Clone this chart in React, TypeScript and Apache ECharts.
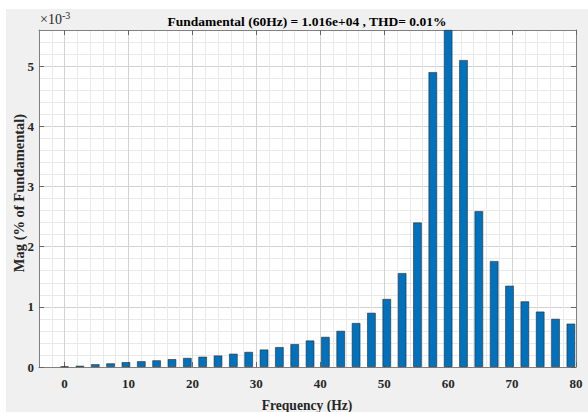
import React, { useEffect, useRef } from "react";
import * as echarts from "echarts";

const freqs = [0, 2.4, 4.8, 7.2, 9.6, 12, 14.4, 16.8, 19.2, 21.6, 24, 26.4, 28.8, 31.2, 33.6, 36, 38.4, 40.8, 43.2, 45.6, 48, 50.4, 52.8, 55.2, 57.6, 60, 62.4, 64.8, 67.2, 69.6, 72, 74.4, 76.8, 79.2];
const mags = [0.01, 0.02, 0.045, 0.06, 0.08, 0.095, 0.11, 0.13, 0.15, 0.17, 0.19, 0.22, 0.25, 0.29, 0.33, 0.38, 0.44, 0.5, 0.6, 0.73, 0.9, 1.13, 1.56, 2.4, 4.9, 5.6, 5.1, 2.59, 1.76, 1.35, 1.09, 0.92, 0.8, 0.72];
const xTicks = [0, 10, 20, 30, 40, 50, 60, 70, 80];
const yTicks = [0, 1, 2, 3, 4, 5];
const titleText = "Fundamental (60Hz) = 1.016e+04 , THD= 0.01%";
const xName = "Frequency (Hz)";
const yName = "Mag (% of Fundamental)";

const FONT = "'Liberation Serif', 'Times New Roman', serif";
const MINOR = "#e9e9e9";
const MAJOR = "#d2d2d2";
const AXIS = "#808080";

export default function App() {
  const ref = useRef<HTMLDivElement>(null);
  useEffect(() => {
    if (!ref.current) return;
    const chart = echarts.init(ref.current, null, { renderer: "svg" });
    const data = freqs.map((f, i) => [f, mags[i]]);
    const tickAxisX = (pos: string, labels: boolean) => ({
      type: "value", position: pos, min: -4, max: 80, interval: 2,
      axisLine: { show: true, onZero: false, lineStyle: { color: AXIS, width: 1 } },
      axisTick: { show: true, inside: true, length: 5, customValues: xTicks, lineStyle: { color: "#666" } },
      axisLabel: labels
        ? { customValues: xTicks, margin: 10, color: "#262626", fontFamily: FONT, fontWeight: "bold", fontSize: 13 }
        : { show: false },
      splitLine: { show: false },
    });
    const tickAxisY = (pos: string, labels: boolean) => ({
      type: "value", position: pos, min: 0, max: 5.6, interval: 0.2,
      axisLine: { show: true, onZero: false, lineStyle: { color: AXIS, width: 1 } },
      axisTick: { show: true, inside: true, length: 5, customValues: yTicks, lineStyle: { color: "#666" } },
      axisLabel: labels
        ? { customValues: yTicks, margin: 5, color: "#262626", fontFamily: FONT, fontWeight: "bold", fontSize: 13 }
        : { show: false },
      splitLine: { show: false },
    });
    chart.setOption({
      animation: false,
      backgroundColor: "transparent",
      grid: { left: 39, right: 12, top: 30, bottom: 45, show: true, backgroundColor: "#fff", borderWidth: 0 },
      xAxis: [
        tickAxisX("bottom", true),
        tickAxisX("top", false),
        {
          type: "value", position: "top", min: -4, max: 80, interval: 2, z: 0,
          axisLine: { show: false }, axisTick: { show: false }, axisLabel: { show: false },
          splitLine: { show: true, lineStyle: { color: [MINOR, MINOR, MAJOR, MINOR, MINOR], width: 1 } },
        },
      ],
      yAxis: [
        tickAxisY("left", true),
        tickAxisY("right", false),
        {
          type: "value", position: "right", min: 0, max: 5.6, interval: 0.2, z: 0,
          axisLine: { show: false }, axisTick: { show: false }, axisLabel: { show: false },
          splitLine: { show: true, lineStyle: { color: [MAJOR, MINOR, MINOR, MINOR, MINOR], width: 1 } },
        },
      ],
      series: [
        {
          type: "bar", xAxisIndex: 0, yAxisIndex: 0, data, barWidth: 8.5,
          itemStyle: { color: "#0072BD", borderColor: "#2a2a2a", borderWidth: 0.6 },
        },
      ],
      graphic: [
        { type: "text", x: 307, y: 21, style: { text: titleText, textAlign: "center", textVerticalAlign: "middle", font: `bold 13.5px ${FONT}`, fill: "#000" } },
        {
          type: "text", x: 40, y: 19,
          style: {
            text: "{a|×10}{b|-3}", textVerticalAlign: "middle",
            rich: {
              a: { font: `14px ${FONT}`, fill: "#262626" },
              b: { font: `10px ${FONT}`, fill: "#262626", verticalAlign: "top", padding: [0, 0, 7, 0] },
            },
          },
        },
        { type: "text", x: 307, y: 405, style: { text: xName, textAlign: "center", textVerticalAlign: "middle", font: `bold 13.6px ${FONT}`, fill: "#262626" } },
        { type: "text", x: 19, y: 193, rotation: Math.PI / 2, style: { text: yName, textAlign: "center", textVerticalAlign: "middle", font: `bold 14.5px ${FONT}`, fill: "#262626" } },
      ],
    });
    return () => chart.dispose();
  }, []);
  return (
    <div style={{ position: "fixed", left: 0, top: 0, width: 588, height: 412, background: "#fff" }}>
      <div style={{ position: "absolute", left: 6, top: 9, width: 582, height: 403, background: "#f0f0f0" }} />
      <div ref={ref} style={{ position: "absolute", left: 0, top: 0, width: 588, height: 412 }} />
    </div>
  );
}
